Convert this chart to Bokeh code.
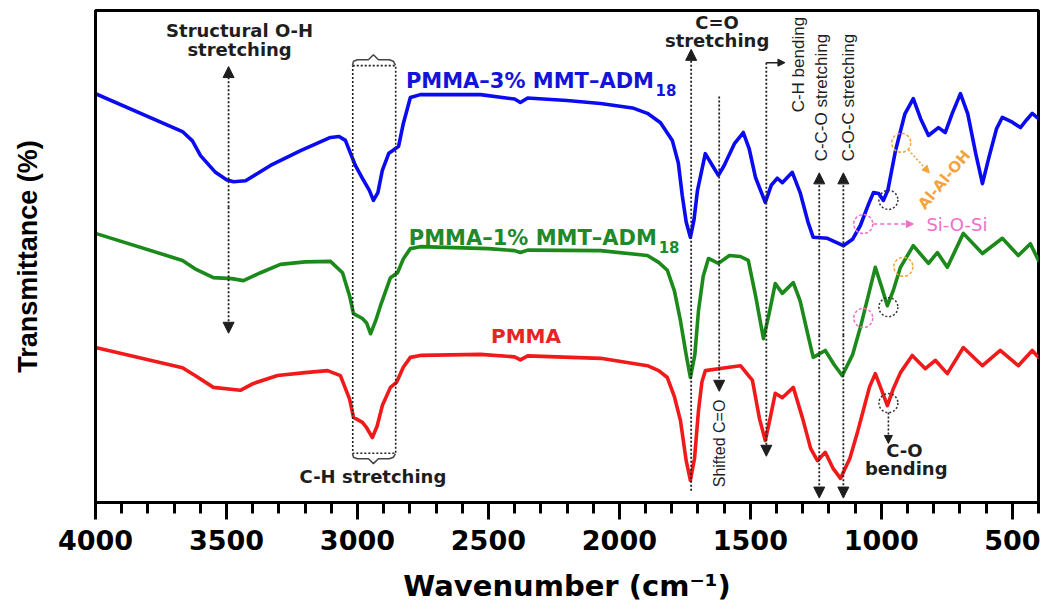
import math
from bokeh.plotting import figure
from bokeh.models import Range1d, FixedTicker, Arrow, NormalHead
from bokeh.core.properties import value
from bokeh.embed import file_html
from bokeh.resources import INLINE

# ---------------- data ----------------
wn_blue = [4000, 3668, 3630, 3599, 3542, 3500, 3473, 3427, 3332, 3217, 3103, 3070, 3046, 3008, 2981, 2955, 2939,
           2922, 2905, 2880, 2866, 2843, 2825, 2798, 2760, 2530, 2400, 2378, 2350, 2200, 2072, 1950, 1893, 1843,
           1798, 1775, 1760, 1745, 1729, 1715, 1702, 1672, 1645, 1622, 1600, 1560, 1527, 1505, 1480, 1443, 1420,
           1397, 1378, 1340, 1310, 1280, 1260, 1206, 1145, 1110, 1080, 1050, 1030, 1010, 992, 975, 946, 910, 878,
           850, 820, 782, 756, 730, 698, 670, 640, 614, 590, 560, 538, 500, 469, 445, 424, 400]
t_blue = [83.1, 75.4, 73.5, 70.5, 67.1, 65.6, 65.2, 65.4, 68.5, 71.5, 74.2, 74.4, 73.6, 68.5, 65.9, 63.5, 61.4,
          63.0, 67.5, 71.0, 71.5, 72.4, 77.0, 82.3, 82.9, 82.9, 82.0, 81.3, 82.2, 81.7, 81.1, 80.2, 79.1, 77.2,
          73.6, 69.0, 62.4, 57.0, 53.9, 57.5, 63.4, 70.9, 68.5, 66.5, 68.5, 73.0, 75.2, 72.0, 66.0, 61.0, 64.5,
          65.9, 65.0, 67.1, 63.0, 57.0, 53.9, 53.7, 52.2, 53.5, 56.3, 60.5, 63.0, 62.8, 61.4, 63.5, 71.5, 79.0, 82.1,
          78.0, 74.6, 76.2, 75.2, 79.0, 83.1, 79.0, 71.0, 64.8, 70.0, 76.0, 78.3, 77.3, 76.2, 77.8, 79.1, 78.0]

wn_green = [4000, 3668, 3620, 3550, 3480, 3435, 3370, 3294, 3200, 3103, 3057, 3030, 3015, 2981, 2965, 2950, 2930,
            2912, 2874, 2847, 2825, 2798, 2760, 2500, 2400, 2378, 2350, 2072, 1893, 1850, 1817, 1790, 1767, 1745,
            1729, 1712, 1698, 1680, 1660, 1622, 1580, 1538, 1508, 1480, 1450, 1430, 1405, 1378, 1336, 1310, 1280,
            1260, 1214, 1180, 1149, 1110, 1080, 1050, 1023, 1000, 977, 955, 927, 878, 820, 786, 748, 687, 614, 538,
            477, 431, 400]
t_green = [54.7, 49.2, 47.5, 45.7, 45.5, 45.1, 46.7, 48.4, 48.9, 49.0, 46.7, 42.0, 38.4, 37.4, 36.5, 34.3, 37.0,
           40.0, 45.7, 46.7, 49.5, 51.6, 52.0, 51.6, 51.2, 50.8, 51.3, 51.2, 50.2, 48.8, 47.2, 43.0, 37.0, 30.0,
           25.4, 30.0, 39.0, 46.0, 49.6, 48.6, 50.2, 50.0, 49.2, 42.0, 33.3, 38.0, 44.5, 42.5, 44.7, 41.0, 34.0,
           29.5, 30.9, 28.0, 25.8, 30.0, 35.6, 42.0, 47.8, 44.0, 40.0, 43.0, 47.8, 52.2, 48.6, 50.8, 47.8, 54.7,
           50.6, 53.7, 50.2, 52.6, 49.2]

wn_red = [4000, 3668, 3620, 3550, 3447, 3397, 3305, 3200, 3114, 3065, 3030, 3015, 2981, 2965, 2943, 2925, 2905,
          2874, 2851, 2825, 2798, 2760, 2530, 2400, 2378, 2350, 2072, 1893, 1850, 1817, 1790, 1767, 1745, 1729,
          1713, 1698, 1685, 1672, 1622, 1538, 1492, 1465, 1443, 1425, 1405, 1378, 1336, 1300, 1270, 1244, 1214,
          1185, 1156, 1120, 1090, 1072, 1045, 1023, 1000, 977, 955, 927, 882, 832, 794, 748, 687, 614, 546, 477,
          424, 400]
t_red = [31.5, 27.4, 25.8, 23.4, 22.8, 24.2, 25.8, 26.4, 26.8, 25.8, 21.0, 17.3, 16.3, 15.2, 13.2, 15.5, 19.7,
         23.4, 24.4, 27.5, 29.5, 29.9, 30.1, 29.6, 29.0, 29.8, 29.3, 27.8, 26.8, 25.4, 21.5, 16.7, 8.5, 4.5,
         9.0, 18.7, 24.5, 26.8, 27.2, 27.8, 24.8, 17.0, 12.6, 17.0, 22.2, 21.3, 23.4, 17.0, 11.0, 8.5, 10.2,
         7.0, 4.9, 9.0, 14.5, 18.1, 23.5, 26.2, 23.0, 19.7, 23.0, 26.4, 29.9, 27.2, 28.9, 26.2, 31.5, 27.8,
         30.9, 27.8, 30.9, 29.5]

series_names = ["PMMA\u20133% MMT\u2013ADM", "PMMA\u20131% MMT\u2013ADM", "PMMA"]
series_sub = ["18", "18", ""]
major_ticks = [4000, 3500, 3000, 2500, 2000, 1500, 1000, 500]
minor_ticks = list(range(400, 4001, 100))
x_title = "Wavenumber (cm\u207b\u00b9)"
y_title = "Transmittance (%)"

BLUE = "#0b0bf2"
GREEN = "#1b8a1b"
RED = "#f01a1a"
INK = "#1e1e1e"
ORANGE = "#f4a23a"
PINK = "#ee6fc8"

# ---------------- figure ----------------
p = figure(width=1044, height=611, x_range=Range1d(4000, 400), y_range=Range1d(0, 100),
           output_backend="svg", toolbar_location=None,
           min_border_left=95, min_border_right=6, min_border_top=10, min_border_bottom=109)
p.grid.visible = False
p.outline_line_color = "black"
p.outline_line_width = 3
p.background_fill_color = "white"
p.border_fill_color = "white"

xa = p.xaxis[0]
xa.ticker = FixedTicker(ticks=major_ticks, minor_ticks=minor_ticks)
xa.axis_line_width = 3
xa.major_tick_line_width = 3
xa.minor_tick_line_width = 3
xa.major_tick_out = 17
xa.major_tick_in = 0
xa.minor_tick_out = 11
xa.minor_tick_in = 0
xa.major_label_text_font = "DejaVu Sans"
xa.major_label_text_font_style = "bold"
xa.major_label_text_font_size = "27px"
xa.major_label_text_color = "black"
xa.major_label_standoff = 10
xa.axis_label = x_title
xa.axis_label_text_font = "DejaVu Sans"
xa.axis_label_text_font_style = "bold"
xa.axis_label_text_font_size = "29px"
xa.axis_label_text_color = "black"
xa.axis_label_standoff = 16

ya = p.yaxis[0]
ya.ticker = FixedTicker(ticks=[])
ya.axis_line_width = 3
ya.major_tick_line_color = None
ya.minor_tick_line_color = None
ya.axis_label = y_title
ya.axis_label_text_font = "Liberation Sans"
ya.axis_label_text_font_style = "bold"
ya.axis_label_text_font_size = "27px"
ya.axis_label_text_color = "black"
ya.axis_label_standoff = 53

# ---------------- spectra ----------------
for xs, ys, c in [(wn_red, t_red, RED), (wn_green, t_green, GREEN), (wn_blue, t_blue, BLUE)]:
    p.line(xs, ys, line_color=c, line_width=3.6, line_join="round", line_cap="round")


def txt(x, y, s, size, color=INK, font="DejaVu Sans", style="bold", align="center", baseline="middle", angle=0.0):
    p.text(x=[x], y=[y], text=[s], text_font=value(font), text_font_style=style,
           text_font_size=size, text_color=color, text_align=align, text_baseline=baseline, angle=angle)


def arrow(x0, y0, x1, y1, double=False, color=INK, dash="2 2", width=1.8, size=11):
    head = dict(size=size, fill_color=color, line_color=color, line_width=1)
    kw = dict(end=NormalHead(**head), x_start=x0, y_start=y0, x_end=x1, y_end=y1,
              line_color=color, line_dash=dash, line_width=width)
    if double:
        kw["start"] = NormalHead(**head)
    p.add_layout(Arrow(**kw))


# series labels
txt(2815, 85.7, series_names[0], "21px", color="#1414d6", align="left")
txt(1862, 83.8, series_sub[0], "15px", color="#1414d6", align="left")
txt(2804, 53.8, series_names[1], "21px", color="#21892a", align="left")
txt(1850, 51.9, series_sub[1], "15px", color="#21892a", align="left")
txt(2490, 33.8, series_names[2], "20px", color="#e62424", align="left")

# Structural O-H stretching
txt(3450, 95.9, "Structural O-H", "18px")
txt(3450, 92.0, "stretching", "18px")
arrow(3492, 60.0, 3492, 88.6)
arrow(3492, 60.0, 3492, 34.4)

# C-H stretching box with braces
box_l, box_r, box_t, box_b = 3018, 2854, 88.8, 10.0
p.line([box_l, box_r, box_r, box_l, box_l], [box_t, box_t, box_b, box_b, box_t],
       line_color=INK, line_dash="2 2", line_width=1.6)
p.line([3019, 3015, 3000, 2958, 2939, 2920, 2878, 2863, 2855],
       [88.9, 89.7, 90.0, 90.0, 91.0, 90.0, 90.0, 89.7, 88.9], line_color="#444444", line_width=1.5)
p.line([3019, 3015, 3000, 2958, 2939, 2920, 2878, 2863, 2855],
       [9.9, 9.2, 8.9, 8.9, 7.9, 8.9, 8.9, 9.2, 9.9], line_color="#444444", line_width=1.5)
txt(2941, 5.3, "C-H stretching", "18px")

# C=O stretching
txt(1627, 97.6, "C=O", "18px")
txt(1627, 94.0, "stretching", "18px")
arrow(1726, 2.4, 1726, 92.1)

# Shifted C=O
arrow(1619, 82.5, 1619, 22.6)
txt(1619, 12.0, "Shifted C=O", "16px", font="Liberation Sans", style="normal", angle=math.pi / 2)

# C-H bending
arrow(1439, 89.4, 1439, 9.4)
arrow(1439, 89.4, 1368, 89.4, dash="solid", width=1.5, size=7)
txt(1317, 89.0, "C-H bending", "17px", font="Liberation Sans", style="normal", angle=math.pi / 2)

# C-C-O / C-O-C stretching
arrow(1237, 34.0, 1237, 67.0)
arrow(1237, 34.0, 1237, 0.9)
arrow(1145, 34.0, 1145, 67.0)
arrow(1145, 34.0, 1145, 0.9)
txt(1229, 82.3, "C-C-O stretching", "17px", font="Liberation Sans", style="normal", angle=math.pi / 2)
txt(1126, 82.3, "C-O-C stretching", "17px", font="Liberation Sans", style="normal", angle=math.pi / 2)

# dashed marker circles
p.scatter([973, 973, 973], [61.5, 39.7, 20.2], marker="circle", size=19, fill_color=None,
          line_color="#333333", line_dash="2 2", line_width=1.5)
p.scatter([924, 916], [73.1, 47.9], marker="circle", size=19, fill_color=None,
          line_color=ORANGE, line_dash="3 2", line_width=1.5)
p.scatter([1069, 1069], [56.6, 37.5], marker="circle", size=19, fill_color=None,
          line_color=PINK, line_dash="3 2", line_width=1.5)

# Al-Al-OH
arrow(897, 71.7, 817, 67.0, color=ORANGE, dash="2 2", width=1.6, size=7)
txt(760, 65.6, "Al-Al-OH", "15px", color=ORANGE, angle=0.87)

# Si-O-Si
arrow(1031, 56.6, 878, 56.6, color=PINK, dash="4 3", width=1.6, size=7)
txt(828, 56.6, "Si-O-Si", "18px", color=PINK, style="normal", align="left")

# C-O bending
arrow(973, 18.3, 973, 12.0, width=1.6, size=8)
txt(912, 10.6, "C-O", "18px")
txt(905, 6.9, "bending", "18px")

open("out.html", "w").write(file_html(p, INLINE))
